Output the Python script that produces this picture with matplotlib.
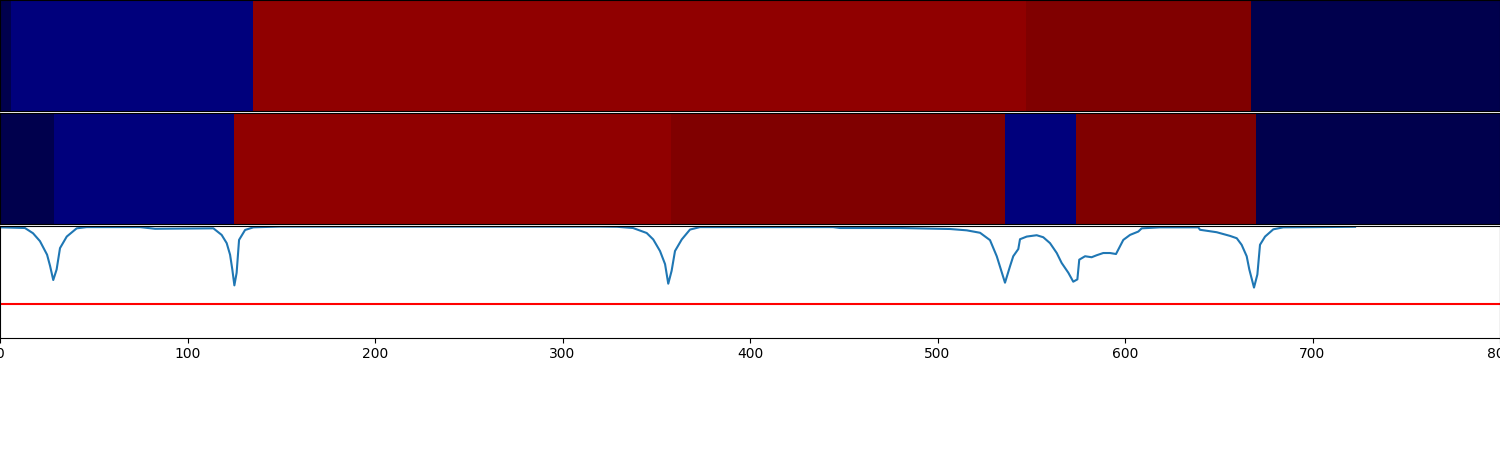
import matplotlib
matplotlib.use("Agg")
import matplotlib.pyplot as plt
import numpy as np

# Segment boundaries (x) and colour values for the two heat strips
row1_edges = [0, 6, 135, 547, 667, 800]
row1_values = [0.0, 0.07, 0.965, 1.0, 0.0]
row2_edges = [0, 29, 125, 358, 536, 574, 670, 800]
row2_values = [0.0, 0.07, 0.965, 1.0, 0.07, 1.0, 0.0]

# Curve in the bottom panel
curve_x = [0, 13.3, 17.6, 21.3, 25.1, 26.7, 28.4, 30.2, 32.0, 35.6, 40.9, 46.2,
           74.7, 82.7, 113.8, 118.2, 120.9, 122.7, 123.9, 125.0, 126.2, 127.5,
           130.7, 135.1, 149.3, 320, 329.1, 337.6, 344.9, 348.4, 352.0, 354.7,
           356.4, 358.2, 360.0, 363.6, 368.0, 373.3, 444.3, 448, 480, 506.7,
           515.6, 522.7, 528, 531.6, 536.0, 538.7, 540.4, 543.1, 544.0, 547.6,
           552.9, 556.4, 560, 563.6, 566.2, 569.8, 572.4, 574.6, 575.6, 578.7,
           582.2, 584.9, 588.4, 592, 595.2, 599.1, 602.7, 607.1, 608.9, 618.7,
           639.1, 640, 648.9, 656, 659.6, 662.2, 664.9, 666.3, 668.8, 670.6,
           672, 674.7, 679.1, 684.4, 702.2, 722.7]
curve_y = [0.991, 0.985, 0.938, 0.867, 0.745, 0.644, 0.517, 0.612, 0.804, 0.908,
           0.982, 0.993, 0.993, 0.978, 0.982, 0.923, 0.849, 0.745, 0.612, 0.469,
           0.582, 0.878, 0.967, 0.991, 0.998, 0.998, 0.996, 0.985, 0.940, 0.882,
           0.778, 0.660, 0.484, 0.600, 0.778, 0.882, 0.971, 0.993, 0.993, 0.985,
           0.985, 0.976, 0.964, 0.942, 0.876, 0.731, 0.493, 0.642, 0.731, 0.796,
           0.884, 0.908, 0.920, 0.902, 0.849, 0.760, 0.671, 0.582, 0.502, 0.523,
           0.700, 0.731, 0.722, 0.740, 0.760, 0.760, 0.751, 0.878, 0.923, 0.953,
           0.982, 0.991, 0.991, 0.969, 0.947, 0.914, 0.893, 0.834, 0.731, 0.612,
           0.449, 0.567, 0.834, 0.908, 0.973, 0.991, 0.993, 0.996]
threshold = 0.3

x_ticks = [0, 100, 200, 300, 400, 500, 600, 700, 800]

fig = plt.figure(figsize=(15, 4.5), dpi=100)
gs = fig.add_gridspec(3, 1, left=0, right=1, top=1, bottom=0.25, hspace=0.018)
ax1 = fig.add_subplot(gs[0])
ax2 = fig.add_subplot(gs[1], sharex=ax1)
ax3 = fig.add_subplot(gs[2], sharex=ax1)

for ax, edges, vals in [(ax1, row1_edges, row1_values), (ax2, row2_edges, row2_values)]:
    ax.pcolormesh(edges, [0, 1], np.array(vals)[None, :], cmap="seismic",
                  vmin=0, vmax=1, shading="flat")
    ax.set_ylim(0, 1)
    ax.set_xticks([])
    ax.set_yticks([])
    ax.tick_params(labelbottom=False, bottom=False, left=False)

ax3.plot(curve_x, curve_y, color="#1f77b4", lw=1.5)
ax3.axhline(threshold, color="red", lw=1.5)
ax3.set_ylim(0, 1)
ax3.set_xlim(0, 800)
ax3.set_yticks([])
ax3.set_xticks(x_ticks)
ax3.set_xticklabels([str(t) for t in x_ticks])

fig.savefig("out.png", dpi=100)
